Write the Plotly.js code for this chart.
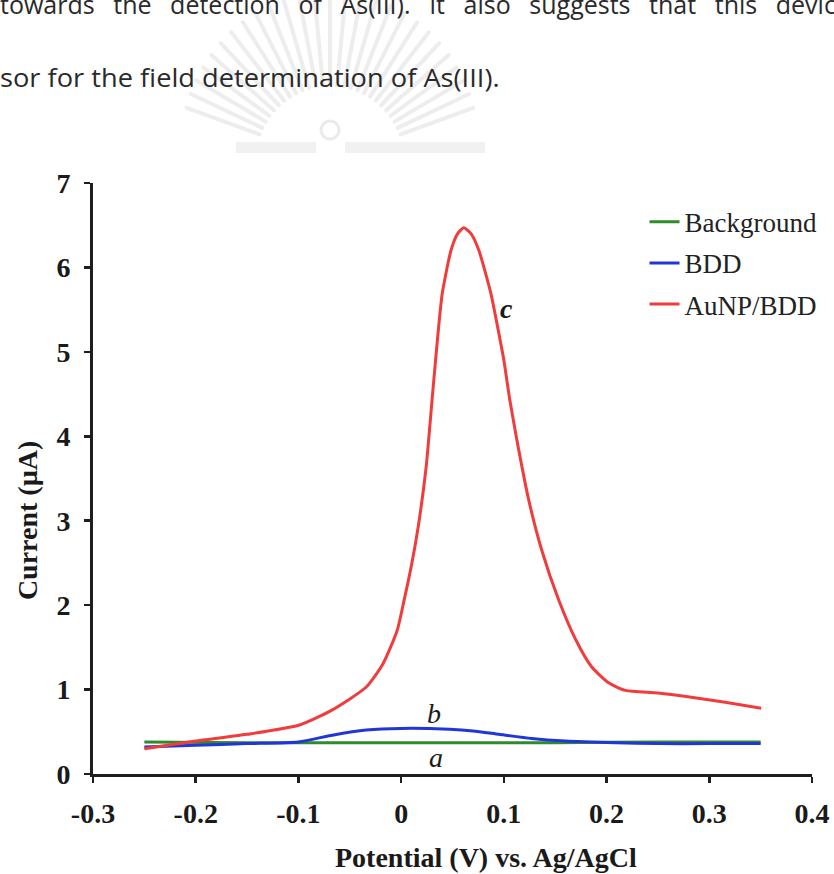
<!DOCTYPE html>
<html><head><meta charset="utf-8">
<script src="https://cdn.plot.ly/plotly-3.0.1.min.js"></script>
<style>
html,body{margin:0;padding:0;background:#fff;}
#wrap{position:relative;width:834px;height:874px;overflow:hidden;background:#fff;}
#chart{position:absolute;left:0;top:0;width:834px;height:874px;}
#wm{position:absolute;left:0;top:0;pointer-events:none;}
.ptxt{position:absolute;left:0;font-family:"Open Sans","Noto Sans",sans-serif;font-size:25px;color:#2a2a2a;white-space:nowrap;transform-origin:0 0;}
#l1{top:-13px;width:850px;display:flex;justify-content:space-between;}
#l2{top:60px;}
</style></head>
<body><div id="wrap">
<svg id="wm" width="834" height="200"></svg>
<div id="chart"></div>
<div class="ptxt" id="l1"><span>towards</span><span>the</span><span>detection</span><span>of</span><span>As(III).</span><span>It</span><span>also</span><span>suggests</span><span>that</span><span>this</span><span>device</span></div>
<div class="ptxt" id="l2">sor for the field determination of As(III).</div>
</div>
<script>
// ---- data ----
const potentialBackground = [-0.25, -0.15, -0.05, 0.05, 0.15, 0.25, 0.35];
const currentBackground   = [0.38, 0.37, 0.37, 0.37, 0.37, 0.38, 0.38];

const potentialBDD = [-0.25, -0.2, -0.15, -0.1, -0.067, -0.034, 0.0, 0.047, 0.07, 0.095, 0.127, 0.16, 0.209, 0.25, 0.3, 0.35];
const currentBDD   = [0.32, 0.34, 0.36, 0.38, 0.46, 0.52, 0.54, 0.53, 0.51, 0.47, 0.42, 0.39, 0.37, 0.36, 0.36, 0.36];

const potentialAuNP = [-0.25, -0.2, -0.15, -0.099, -0.067, -0.034, -0.0175, -0.0039, 0.0029, 0.0097, 0.0165, 0.0243, 0.0301, 0.035, 0.040, 0.0485, 0.055, 0.061, 0.068, 0.0757, 0.0874, 0.0932, 0.100, 0.1058, 0.1146, 0.1243, 0.1369, 0.1534, 0.170, 0.1854, 0.202, 0.2184, 0.250, 0.2825, 0.3155, 0.3505];
const currentAuNP   = [0.30, 0.39, 0.47, 0.58, 0.76, 1.03, 1.31, 1.70, 2.06, 2.45, 2.92, 3.63, 4.43, 5.10, 5.69, 6.20, 6.40, 6.47, 6.40, 6.20, 5.69, 5.34, 4.90, 4.43, 3.83, 3.24, 2.65, 2.06, 1.59, 1.27, 1.08, 0.99, 0.96, 0.91, 0.85, 0.78];

const seriesNames = ['Background', 'BDD', 'AuNP/BDD'];
const xTickVals = [-0.3, -0.2, -0.1, 0, 0.1, 0.2, 0.3, 0.4];
const xTickText = ['-0.3', '-0.2', '-0.1', '0', '0.1', '0.2', '0.3', '0.4'];
const yTickVals = [0, 1, 2, 3, 4, 5, 6, 7];
const yTickText = ['0', '1', '2', '3', '4', '5', '6', '7'];
const curveLabels = ['a', 'b', 'c'];
const curveLabelX = [0.034, 0.032, 0.103];
const curveLabelY = [0.20, 0.72, 5.51];
const xTitle = 'Potential (V) vs. Ag/AgCl';
const yTitle = 'Current (µA)';

// ---- watermark (page decoration) ----
(function(){
  const svg = document.getElementById('wm');
  const cx = 330, cy = 160;
  let s = '';
  for (let i = 0; i <= 26; i++) {
    const a = (200 + i * 140 / 26) * Math.PI / 180;
    const r0 = 75, r1 = 172 - Math.abs(i - 13) * 1.5;
    const x0 = cx + r0 * Math.cos(a), y0 = cy + r0 * Math.sin(a);
    const x1 = cx + r1 * Math.cos(a), y1 = cy + r1 * Math.sin(a);
    s += `<line x1="${x0}" y1="${y0}" x2="${x1}" y2="${y1}" stroke="#ededed" stroke-width="4" stroke-linecap="round"/>`;
  }
  s += `<circle cx="330" cy="130" r="9" fill="none" stroke="#ebebeb" stroke-width="3"/>`;
  s += `<rect x="236" y="142" width="80" height="11" fill="#f1f1f1"/>`;
  s += `<rect x="345" y="142" width="140" height="11" fill="#f1f1f1"/>`;
  svg.innerHTML = s;
})();

const SERIF = '"Liberation Serif", "Times New Roman", serif';
const traces = [
  {x: potentialBackground, y: currentBackground, name: seriesNames[0], mode: 'lines', legendgroup: 'g1',
   line: {color: '#2f8c2a', width: 3, shape: 'spline', smoothing: 0.6}},
  {x: potentialBDD, y: currentBDD, name: seriesNames[1], mode: 'lines', legendgroup: 'g2',
   line: {color: '#2236d8', width: 3, shape: 'spline', smoothing: 0.6}},
  {x: potentialAuNP, y: currentAuNP, name: seriesNames[2], mode: 'lines', legendgroup: 'g3',
   line: {color: '#f03c3c', width: 3, shape: 'spline', smoothing: 0.6}}
];

const axisCommon = {
  showline: true, linecolor: '#1e1e1e', linewidth: 3, mirror: false,
  ticks: 'outside', ticklen: 6, tickwidth: 2.5, tickcolor: '#1e1e1e',
  showgrid: false, zeroline: false,
  tickfont: {family: SERIF, size: 28, weight: 700, color: '#1a1a1a'}
};

const annotations = curveLabels.map((t, i) => ({
  x: curveLabelX[i], y: curveLabelY[i], xref: 'x', yref: 'y', text: t, showarrow: false,
  xanchor: 'center', yanchor: 'middle',
  font: {family: SERIF, size: 28, style: 'italic', weight: (t === 'c' ? 700 : 400), color: '#1a1a1a'}
}));
annotations.push({x: 0.547, y: -0.142, xref: 'paper', yref: 'paper', text: xTitle, showarrow: false,
  xanchor: 'center', yanchor: 'middle',
  font: {family: SERIF, size: 28, weight: 700, color: '#1a1a1a'}});
annotations.push({x: -0.0917, y: 0.428, xref: 'paper', yref: 'paper', text: yTitle, showarrow: false, textangle: -90,
  xanchor: 'center', yanchor: 'middle',
  font: {family: SERIF, size: 28, weight: 700, color: '#1a1a1a'}});

const layout = {
  width: 834, height: 874,
  margin: {l: 93, r: 21, t: 183, b: 100},
  paper_bgcolor: 'rgba(0,0,0,0)', plot_bgcolor: 'rgba(0,0,0,0)',
  font: {family: SERIF, size: 28, color: '#1a1a1a'},
  xaxis: Object.assign({}, axisCommon, {range: [-0.3, 0.4], tickmode: 'array', tickvals: xTickVals, ticktext: xTickText, ticklabelstandoff: 6}),
  yaxis: Object.assign({}, axisCommon, {range: [0, 7], tickmode: 'array', tickvals: yTickVals, ticktext: yTickText, ticklabelstandoff: 8}),
  showlegend: true,
  legend: {x: 0.766, xanchor: 'left', y: 0.975, yanchor: 'top', bgcolor: 'rgba(0,0,0,0)',
    font: {family: SERIF, size: 27, color: '#222'}, tracegroupgap: 3},
  annotations: annotations
};

Plotly.newPlot('chart', traces, layout, {displayModeBar: false, staticPlot: true});

function fitLine() {
  const l2 = document.getElementById('l2');
  const w = l2.offsetWidth;
  if (w > 0) l2.style.transform = 'scaleX(' + (500 / w) + ')';
}
fitLine();
if (document.fonts && document.fonts.ready) document.fonts.ready.then(fitLine);
</script>
</body></html>
